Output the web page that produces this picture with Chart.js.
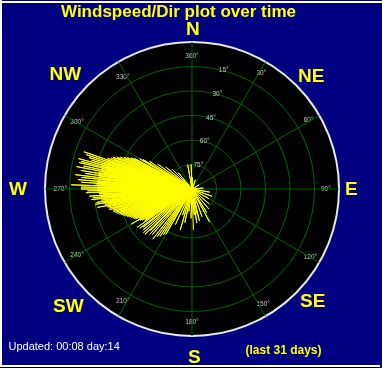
<!DOCTYPE html>
<html><head><meta charset="utf-8">
<script src="https://cdn.jsdelivr.net/npm/chart.js@4.4.1/dist/chart.umd.min.js"></script>
<style>
html,body{margin:0;padding:0;background:#000080;overflow:hidden;}
#wrap{position:relative;width:382px;height:368px;background:#000080;overflow:hidden;}
#c{position:absolute;left:0;top:0;}
.t{position:absolute;font-family:Arial,"Liberation Sans",sans-serif;white-space:nowrap;line-height:1;}
.cp{color:#ffff00;font-weight:bold;font-size:19px;}
.ln{position:absolute;}
</style></head><body>
<div id="wrap">
<canvas id="c" width="382" height="368"></canvas>
<div class="ln" style="left:0;top:1px;width:382px;height:2px;background:#ffffff"></div>
<div class="ln" style="left:0;top:0;width:2px;height:366px;background:#ffffff"></div>
<div class="ln" style="left:0;top:365px;width:380px;height:2px;background:#ffffff"></div>
<div class="ln" style="left:0;top:367px;width:382px;height:1px;background:#000000"></div>
<div class="t" style="left:61px;top:3px;color:#ffff00;font-weight:bold;font-size:17px;">Windspeed/Dir plot over time</div>
<div class="t cp" style="left:186px;top:18.5px;">N</div>
<div class="t cp" style="left:49.5px;top:64px;">NW</div>
<div class="t cp" style="left:298px;top:66px;">NE</div>
<div class="t cp" style="left:9px;top:178.5px;">W</div>
<div class="t cp" style="left:345px;top:178.5px;">E</div>
<div class="t cp" style="left:53px;top:296px;">SW</div>
<div class="t cp" style="left:300px;top:291px;">SE</div>
<div class="t cp" style="left:188px;top:347px;">S</div>
<div class="t" style="left:8.5px;top:340.5px;color:#ffffff;font-size:11px;">Updated: 00:08 day:14</div>
<div class="t" style="left:245.5px;top:343.5px;color:#ffff00;font-weight:bold;font-size:12px;">(last 31 days)</div>
</div>
<script>
// compass angle labels and ring labels
const compassLabels = ['360°','30°','60°','90°','120°','150°','180°','210°','240°','270°','300°','330°'];
const ringValues = [15, 30, 45, 60, 75];
const ringLabels = ['75°', '60°', '45°', '30°', '15°'];

// long westerly rays (direction deg, length)
const fanDir   = [289,288,287,286,285,284,283.2,282,281,279.5,278.3,277,276,274.7,273.5,272,271,270,269,268,266,265,264,262,261,259];
const fanSpeed = [70,68,66,64,72,70,71,68,72,69,66,72,68,70,68,74,68,68,64,65,63,61,62,59,60,59];

// dense core of the fan
const coreDir   = [236,237,238,239,240,241,242,243,244,245,246,247,248,249,250,251,252,253,254,255,256,257,258,259,260,261,262,263,264,265,266,267,268,269,270,271,272,273,274,275,276,277,278,279,280,281,282,283,284,285,286,287,288,289,290,291,292,293,294,295,296,297,298];
const coreSpeed = [35,34,36,37,38,37,39,40,40,41,42,43,44,45,46,47,48,49,50,50,52,52,53,54,54,55,55,56,56,56,57,57,58,58,58,58,58,59,58,58,58,57,58,58,58,57,58,57,57,58,57,56,55,55,55,53,52,50,48,46,44,42,40];
const core2Dir   = [236.5,238.5,240.5,242.5,244.5,246.5,248.5,250.5,252.5,254.5,256.5,258.5,260.5,262.5,264.5,266.5,268.5,270.5,272.5,274.5,276.5,278.5,280.5,282.5,284.5,286.5,288.5,290.5,292.5,294.5,296.5];
const core2Speed = [32,33,35,36,37,39,41,43,45,47,49,50,51,52,53,54,55,55,55,55,55,54,55,54,54,53,52,51,49,45,41];

// south-westerly lobe and north-westerly edge
const lobeDir   = [240,235,233,232,230,228,226,225,223,221,218,216,214,212,210,300,301,303,306,310,315,320];
const lobeSpeed = [43,41,40,38,39,40,40,36,38,37,39,36,35,33,32,37,35,31,26,21,17,13];

// short rays in other directions
const calmDir   = [350,358,5,20,60,85,100,110,120,131,140,148,152,160,167,172,168,175,182,192,200,205,196,188,178];
const calmSpeed = [15,15,7,6,5,7,11,13,12,14,16,17,23,18,20,21,16,16,18,21,17,24,26,14,25];

function rays(dirs, speeds) {
  const pts = [];
  dirs.forEach((d, i) => {
    const a = d * Math.PI / 180;
    pts.push({x: 0, y: 0});
    pts.push({x: speeds[i] * Math.sin(a), y: speeds[i] * Math.cos(a)});
  });
  return pts;
}
const rayData = [].concat(
  rays(coreDir, coreSpeed), rays(core2Dir, core2Speed),
  rays(fanDir, fanSpeed), rays(lobeDir, lobeSpeed), rays(calmDir, calmSpeed)
);

const GRID = '#006400';
const ringLabelPlugin = {
  id: 'ringLabels',
  afterDatasetsDraw(chart) {
    const s = chart.scales.r, ctx = chart.ctx;
    ctx.save();
    ctx.font = '6.5px Arial';
    ctx.fillStyle = '#c8c8c8';
    ctx.textAlign = 'center';
    ctx.textBaseline = 'middle';
    ringValues.forEach((v, i) => {
      const p = s.getPointPositionForValue(0.5, v);
      ctx.fillText(ringLabels[i], p.x, p.y);
    });
    ctx.restore();
  }
};

new Chart(document.getElementById('c'), {
  type: 'scatter',
  data: {
    labels: compassLabels,
    datasets: [{
      data: rayData,
      showLine: true,
      borderColor: '#ffff00',
      borderWidth: 1,
      pointRadius: 0,
      tension: 0,
      fill: false
    }]
  },
  options: {
    responsive: false,
    maintainAspectRatio: false,
    animation: false,
    devicePixelRatio: 1,
    layout: {padding: {left: 45, top: 42, right: 43, bottom: 32}},
    plugins: {legend: {display: false}, tooltip: {enabled: false}, title: {display: false}},
    scales: {
      x: {type: 'linear', display: false, min: -90, max: 90},
      y: {type: 'linear', display: false, min: -90, max: 90},
      r: {
        type: 'radialLinear',
        min: 0, max: 90,
        startAngle: 0,
        backgroundColor: '#000000',
        ticks: {display: false, stepSize: 15},
        grid: {
          circular: true,
          color: c => (c.tick && c.tick.value === 90) ? '#e8e8e8' : GRID,
          lineWidth: c => (c.tick && c.tick.value === 90) ? 2 : 1
        },
        angleLines: {color: GRID, lineWidth: 1},
        pointLabels: {
          display: true,
          color: '#c8c8c8',
          font: {family: 'Arial', size: 6.5},
          padding: c => (c.index >= 7 ? -22 : -18)
        }
      }
    }
  },
  plugins: [ringLabelPlugin]
});
</script>
</body></html>
